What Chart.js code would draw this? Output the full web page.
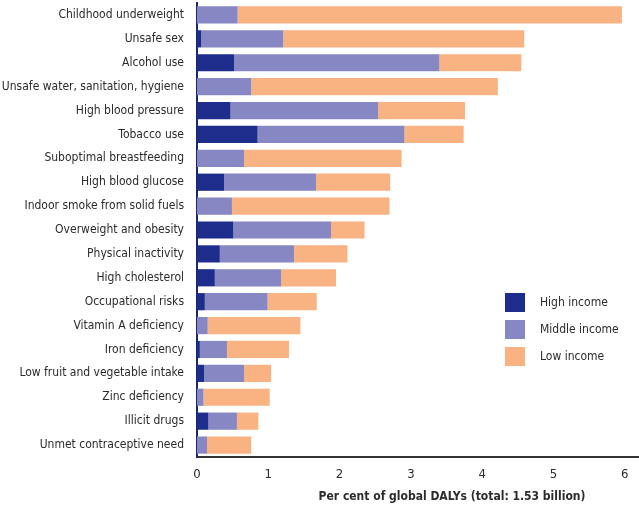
<!DOCTYPE html>
<html>
<head>
<meta charset="utf-8">
<script src="https://cdn.jsdelivr.net/npm/chart.js@4.4.1/dist/chart.umd.min.js"></script>
<style>
  html, body { margin: 0; padding: 0; background: #fff; }
  #wrap { width: 639px; height: 509px; }
</style>
</head>
<body>
<div id="wrap"><canvas id="chart" width="639" height="509"></canvas></div>
<script>
const riskFactors = [
  'Childhood underweight', 'Unsafe sex', 'Alcohol use', 'Unsafe water, sanitation, hygiene',
  'High blood pressure', 'Tobacco use', 'Suboptimal breastfeeding', 'High blood glucose',
  'Indoor smoke from solid fuels', 'Overweight and obesity', 'Physical inactivity',
  'High cholesterol', 'Occupational risks', 'Vitamin A deficiency', 'Iron deficiency',
  'Low fruit and vegetable intake', 'Zinc deficiency', 'Illicit drugs', 'Unmet contraceptive need'
];
const highIncome   = [0, 0.06, 0.52, 0, 0.47, 0.85, 0, 0.38, 0, 0.51, 0.32, 0.25, 0.11, 0, 0.04, 0.10, 0, 0.16, 0];
const middleIncome = [0.57, 1.15, 2.88, 0.76, 2.07, 2.06, 0.66, 1.29, 0.49, 1.37, 1.04, 0.93, 0.88, 0.15, 0.38, 0.56, 0.09, 0.40, 0.14];
const lowIncome    = [5.39, 3.38, 1.15, 3.46, 1.22, 0.83, 2.21, 1.04, 2.21, 0.47, 0.75, 0.77, 0.69, 1.30, 0.87, 0.38, 0.93, 0.30, 0.62];
const xTicks = [0, 1, 2, 3, 4, 5, 6];
const xTitle = 'Per cent of global DALYs (total: 1.53 billion)';

const fontFamily = '"Liberation Sans Narrow", "DejaVu Sans Condensed", "Liberation Sans", sans-serif';
const textColor = '#2b2b2b';

// legend boxes inside the plot + axis title placed like the original
const extras = {
  id: 'extras',
  afterDraw(chart) {
    const ctx = chart.ctx;
    ctx.save();
    ctx.font = '12px ' + fontFamily;
    ctx.textBaseline = 'middle';
    ctx.textAlign = 'left';
    chart.data.datasets.forEach((ds, i) => {
      const y = 293 + i * 27;
      ctx.fillStyle = ds.backgroundColor;
      ctx.fillRect(505, y, 20, 19);
      ctx.fillStyle = textColor;
      ctx.fillText(ds.label, 540, y + 10);
    });
    ctx.font = 'bold 12px ' + fontFamily;
    ctx.textAlign = 'center';
    ctx.fillText(xTitle, 452, 497);
    ctx.restore();
  }
};

new Chart(document.getElementById('chart'), {
  type: 'bar',
  data: {
    labels: riskFactors,
    datasets: [
      { label: 'High income', data: highIncome, backgroundColor: '#1e2d8c' },
      { label: 'Middle income', data: middleIncome, backgroundColor: '#8787c3' },
      { label: 'Low income', data: lowIncome, backgroundColor: '#f9b281' }
    ]
  },
  options: {
    indexAxis: 'y',
    responsive: false,
    animation: false,
    layout: { padding: { top: 3, right: 0, left: 0, bottom: 0 } },
    datasets: { bar: { categoryPercentage: 1, barPercentage: 0.72, borderWidth: 0 } },
    plugins: { legend: { display: false }, tooltip: { enabled: false } },
    scales: {
      x: {
        stacked: true,
        min: 0,
        max: 6.2,
        afterBuildTicks: s => { s.ticks = xTicks.map(v => ({ value: v })); },
        afterFit: s => { s.height = 52; s.paddingLeft = 0; s.paddingRight = 0; },
        grid: { display: false, drawTicks: false },
        border: { display: true, color: '#333', width: 2 },
        ticks: { color: textColor, padding: 10, font: { family: fontFamily, size: 13 } }
      },
      y: {
        stacked: true,
        afterFit: s => { s.width = 197; s.paddingTop = 0; s.paddingBottom = 0; },
        grid: { display: false, drawTicks: false },
        border: { display: true, color: '#1a2670', width: 2 },
        ticks: { color: textColor, padding: 13, autoSkip: false, font: { family: fontFamily, size: 12 } }
      }
    }
  },
  plugins: [extras]
});
</script>
</body>
</html>
